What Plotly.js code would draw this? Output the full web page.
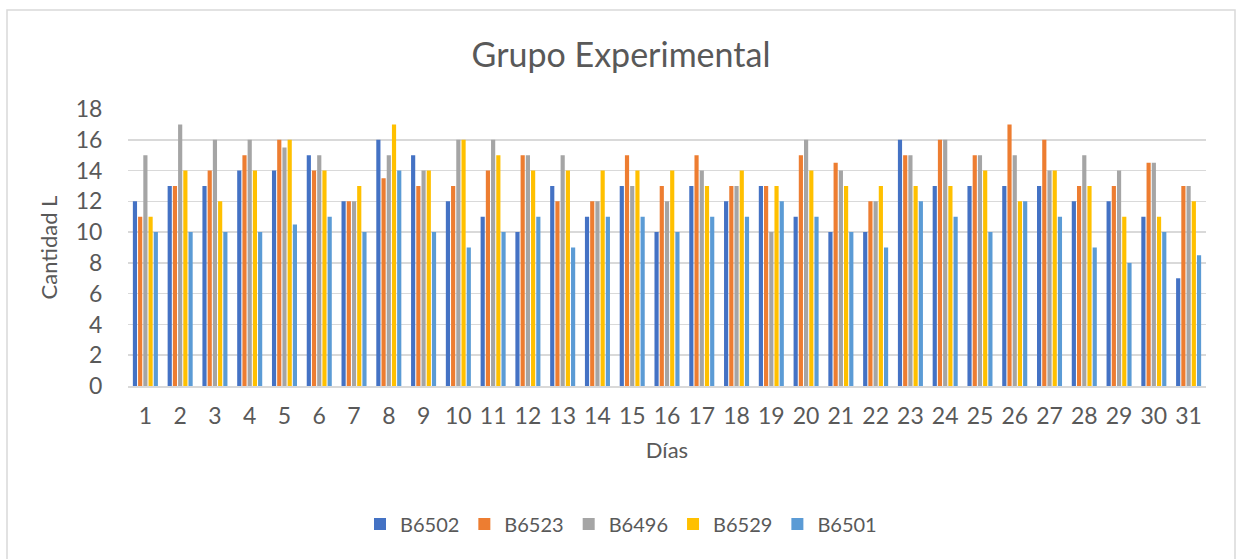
<!DOCTYPE html>
<html>
<head>
<meta charset="utf-8">
<script src="https://cdn.plot.ly/plotly-3.0.1.min.js"></script>
<style>html,body{margin:0;padding:0;background:#fff;}#chart{width:1242px;height:559px;}</style>
</head>
<body>
<div id="chart"></div>
<script>
const days = ['1','2','3','4','5','6','7','8','9','10','11','12','13','14','15','16','17','18','19','20','21','22','23','24','25','26','27','28','29','30','31'];
const seriesNames = ['B6502','B6523','B6496','B6529','B6501'];
const B6502 = [12,13,13,14,14,15,12,16,15,12,11,10,13,11,13,10,13,12,13,11,10,10,16,13,13,13,13,12,12,11,7];
const B6523 = [11,13,14,15,16,14,12,13.5,13,13,14,15,12,12,15,13,15,13,13,15,14.5,12,15,16,15,17,16,13,13,14.5,13];
const B6496 = [15,17,16,16,15.5,15,12,15,14,16,16,15,15,12,13,12,14,13,10,16,14,12,15,16,15,15,14,15,14,14.5,13];
const B6529 = [11,14,12,14,16,14,13,17,14,16,15,14,14,14,14,14,13,14,13,14,13,13,13,13,14,12,14,13,11,11,12];
const B6501 = [10,10,10,10,10.5,11,10,14,10,9,10,11,9,11,11,10,11,11,12,11,10,9,12,11,10,12,11,9,8,10,8.5];
const yTicks = [0,2,4,6,8,10,12,14,16,18];

const values = [B6502,B6523,B6496,B6529,B6501];
const colors = ['#4472C4','#ED7D31','#A5A5A5','#FFC000','#5B9BD5'];
const FONT = 'Lato, "Open Sans", sans-serif';
const TXT = '#595959';

const traces = seriesNames.map((n,i)=>({
  type:'bar', name:n, x:days, y:values[i],
  marker:{color:colors[i]}, hoverinfo:'x+y+name'
}));

const L=128, R=36, T=109, B=173, W=1242, H=559;
const pw = W-L-R, ph = H-T-B;

const layout = {
  width:W, height:H,
  margin:{l:L, r:R, t:T, b:B, pad:0},
  paper_bgcolor:'#ffffff', plot_bgcolor:'#ffffff',
  font:{family:FONT, color:TXT},
  title:{text:'Grupo Experimental', font:{family:FONT, size:34, color:TXT},
         x:0.5, xanchor:'center', xref:'container', y:1-55/H, yanchor:'middle', yref:'container'},
  barmode:'group', bargap:0.25, bargroupgap:0.2,
  xaxis:{type:'category', showgrid:false, showline:true, linecolor:'#d9d9d9', linewidth:1.5,
         ticks:'outside', ticklen:9, tickcolor:'rgba(0,0,0,0)',
         tickfont:{family:FONT, size:23, color:TXT},
         title:{text:'Días', font:{family:FONT, size:22, color:TXT}, standoff:14},
         automargin:false, fixedrange:true},
  yaxis:{range:[0,18], tickvals:yTicks, showgrid:true, gridcolor:'#d9d9d9', gridwidth:1.5,
         zeroline:false, showline:false,
         ticks:'outside', ticklen:20, tickcolor:'rgba(0,0,0,0)',
         tickfont:{family:FONT, size:23, color:TXT},
         title:{text:'Cantidad L', font:{family:FONT, size:22, color:TXT}, standoff:12},
         automargin:false, fixedrange:true},
  legend:{orientation:'h', x:(621-L)/pw, xanchor:'center', y:(386-524)/ph, yanchor:'middle',
          font:{family:FONT, size:20, color:TXT}, traceorder:'normal', bgcolor:'rgba(0,0,0,0)'},
  shapes:[{type:'rect', xref:'paper', yref:'paper',
           x0:(7-L)/pw, x1:(1235-L)/pw, y0:(386-620)/ph, y1:(386-10)/ph,
           line:{color:'#d9d9d9', width:1.5}, fillcolor:'rgba(0,0,0,0)', layer:'below'}]
};

Plotly.newPlot('chart', traces, layout, {displayModeBar:false, staticPlot:true});
</script>
</body>
</html>
